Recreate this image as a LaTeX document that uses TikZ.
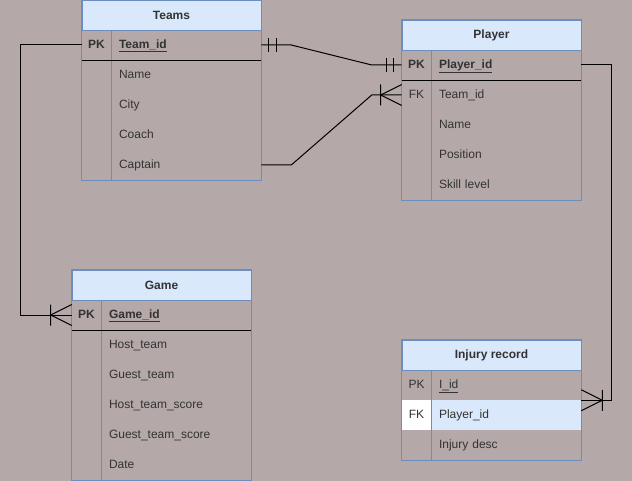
\documentclass[tikz,border=0pt]{standalone}
\usepackage{fontspec}
\setmainfont{Liberation Sans}
\usetikzlibrary{fit, decorations.markings}
\definecolor{bgcolor}{RGB}{181,168,168}
\definecolor{headblue}{HTML}{DAE8FC}
\definecolor{frameblue}{HTML}{6C8EBF}
\definecolor{textgray}{HTML}{333333}
\tikzset{
    tablehead/.style={draw=frameblue, fill=headblue, minimum width=134.25pt, minimum height=22.5pt, inner sep=0, font=\bfseries}, % table title
    keycell/.style={minimum width=21.75pt, minimum height=22.5pt, inner sep=0, text height=6.6pt, text depth=1.8pt}, % PK / FK column
    fieldcell/.style={text width=100.5pt, inner xsep=6pt, inner ysep=0, minimum height=22.5pt, align=left, text height=6.6pt, text depth=1.8pt}, % attribute column
    tableframe/.style={draw=frameblue, inner sep=0},
    colline/.style={draw=frameblue},
    pkline/.style={draw=black, line width=0.75pt},
    rel/.style={draw=black, line width=0.75pt}, % relationship line
    relmark/.style={draw=black, line width=0.75pt},
    onestart/.style={postaction={decorate, decoration={markings,
        mark=at position 5.25pt with {\draw[relmark] (0,-5.25pt) -- (0,5.25pt);},
        mark=at position 11.25pt with {\draw[relmark] (0,-5.25pt) -- (0,5.25pt);}}}},
    oneend/.style={postaction={decorate, decoration={markings,
        mark=at position -11.25pt with {\draw[relmark] (0,-5.25pt) -- (0,5.25pt);},
        mark=at position -6pt with {\draw[relmark] (0,-5.25pt) -- (0,5.25pt);}}}},
    manyend/.style={postaction={decorate, decoration={markings,
        mark=at position -15.75pt with {\draw[relmark] (0,-7.875pt) -- (0,7.875pt) (15.75pt,7.875pt) -- (0,0) -- (15.75pt,-7.875pt);}}}}
}

\begin{document}
\begin{tikzpicture}[x=0.75pt, y=-0.75pt, text=textgray]
  \fontsize{9}{11}\selectfont
  \fill[bgcolor] (0,0) rectangle (632,481);
  \useasboundingbox (0,0) rectangle (632,481);

  % Teams
  \node[tablehead] (teams) at (171.5, 15) {Teams};
  \node[keycell, font=\bfseries] (teams-pk) at (96.5, 45) {PK};
  \node[fieldcell, font=\bfseries] (teams-id) at (186, 45) {\underline{Team\_id}};
  \node[fieldcell] (teams-name) at (186, 75) {Name};
  \node[fieldcell] (teams-city) at (186, 105) {City};
  \node[fieldcell] (teams-coach) at (186, 135) {Coach};
  \node[fieldcell] (teams-cap) at (186, 165) {Captain};
  \node[tableframe, fit=(teams) (teams-cap)] (teams-frame) {};
  \draw[colline] (teams-pk.north east) -- (teams-pk.east |- teams-frame.south);
  \draw[pkline] (teams-pk.south west) -- (teams-id.south east);

  % Player
  \node[tablehead] (player) at (491.5, 35) {Player};
  \node[keycell, font=\bfseries] (player-pk) at (416.5, 65) {PK};
  \node[fieldcell, font=\bfseries] (player-id) at (506, 65) {\underline{Player\_id}};
  \node[keycell] (player-fk) at (416.5, 95) {FK};
  \node[fieldcell] (player-team) at (506, 95) {Team\_id};
  \node[fieldcell] (player-name) at (506, 125) {Name};
  \node[fieldcell] (player-pos) at (506, 155) {Position};
  \node[fieldcell] (player-skill) at (506, 185) {Skill level};
  \node[tableframe, fit=(player) (player-skill)] (player-frame) {};
  \draw[colline] (player-pk.north east) -- (player-pk.east |- player-frame.south);
  \draw[pkline] (player-pk.south west) -- (player-id.south east);

  % Game
  \node[tablehead] (game) at (161.5, 285) {Game};
  \node[keycell, font=\bfseries] (game-pk) at (86.5, 315) {PK};
  \node[fieldcell, font=\bfseries] (game-id) at (176, 315) {\underline{Game\_id}};
  \node[fieldcell] (game-host) at (176, 345) {Host\_team};
  \node[fieldcell] (game-guest) at (176, 375) {Guest\_team};
  \node[fieldcell] (game-hscore) at (176, 405) {Host\_team\_score};
  \node[fieldcell] (game-gscore) at (176, 435) {Guest\_team\_score};
  \node[fieldcell] (game-date) at (176, 465) {Date};
  \node[tableframe, fit=(game) (game-date)] (game-frame) {};
  \draw[colline] (game-pk.north east) -- (game-pk.east |- game-frame.south);
  \draw[pkline] (game-pk.south west) -- (game-id.south east);

  % Injury record
  \node[tablehead] (injury) at (491.5, 355) {Injury record};
  \node[keycell] (injury-pk) at (416.5, 385) {PK};
  \node[fieldcell] (injury-id) at (506, 385) {\underline{I\_id}};
  \node[keycell, fill=white] (injury-fk) at (416.5, 415) {FK};
  \node[fieldcell, fill=headblue] (injury-player) at (506, 415) {Player\_id};
  \node[fieldcell] (injury-desc) at (506, 445) {Injury desc};
  \node[tableframe, fit=(injury) (injury-desc)] (injury-frame) {};
  \draw[colline] (injury-pk.north east) -- (injury-pk.east |- injury-frame.south);

  % relationships
  \draw[rel, onestart, oneend] (teams-id.east) -- ++(30,0) -- ([xshift=-22.5pt]player-pk.west) -- (player-pk.west);
  \draw[rel, manyend] (teams-cap.east) -- ++(30,0) -- ([xshift=-22.5pt]player-fk.west) -- (player-fk.west);
  \draw[rel, manyend] (teams-pk.west) -- ++(-61,0) |- (game-pk.west);
  \draw[rel, manyend] (player-id.east) -- ++(30,0) |- (injury-id.south east);
\end{tikzpicture}
\end{document}
